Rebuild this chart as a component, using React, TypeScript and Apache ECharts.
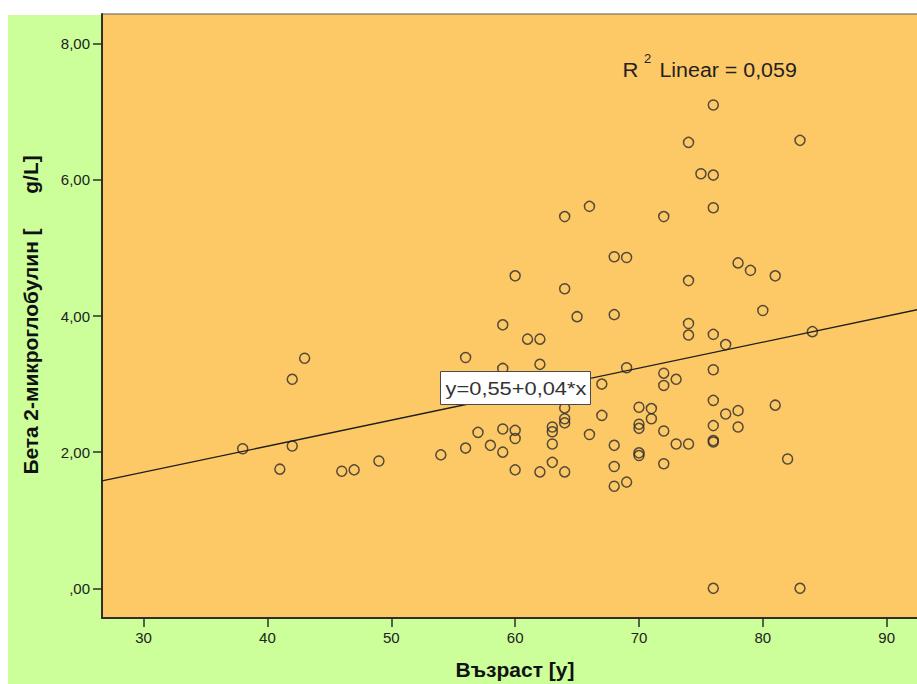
import React, { useEffect, useRef } from "react";
import * as echarts from "echarts";

// Age (years) of each patient
const ages = [
  38, 41, 42, 42, 43, 46, 47, 49, 54, 56, 56, 57, 58, 59, 59, 59, 59,
  60, 60, 60, 60, 61, 62, 62, 62, 63, 63, 63, 63, 64, 64, 64, 64, 64, 64,
  65, 66, 66, 67, 67, 68, 68, 68, 68, 68, 69, 69, 69, 70, 70, 70, 70, 70,
  71, 71, 72, 72, 72, 72, 72, 73, 73, 74, 74, 74, 74, 74, 75,
  76, 76, 76, 76, 76, 76, 76, 76, 76, 76, 77, 77, 78, 78, 78, 79, 80,
  81, 81, 82, 83, 83, 84,
];
// Beta-2-microglobulin (g/L)
const b2m = [
  2.05, 1.75, 3.07, 2.09, 3.38, 1.72, 1.74, 1.87, 1.96, 3.39, 2.06, 2.29, 2.1, 3.87, 3.23, 2.34, 2.0,
  4.59, 2.32, 2.2, 1.74, 3.66, 3.66, 3.29, 1.71, 2.37, 2.3, 2.12, 1.85, 5.46, 4.4, 2.65, 2.49, 2.43, 1.71,
  3.99, 5.61, 2.26, 3.0, 2.54, 4.87, 4.02, 2.1, 1.79, 1.5, 4.86, 3.24, 1.56, 2.66, 2.41, 2.35, 1.99, 1.95,
  2.64, 2.49, 5.46, 3.16, 2.98, 2.31, 1.83, 3.07, 2.12, 6.55, 4.52, 3.89, 3.72, 2.12, 6.09,
  7.1, 6.07, 5.59, 3.73, 3.21, 2.76, 2.39, 2.17, 2.15, 0.0, 3.58, 2.56, 4.78, 2.61, 2.37, 4.67, 4.08,
  4.59, 2.69, 1.9, 6.58, 0.0, 3.77,
];

const xTicks = [30, 40, 50, 60, 70, 80, 90];
const yTicks = [0, 2, 4, 6, 8];

// Fitted linear regression line (as drawn)
const fitIntercept = 0.56;
const fitSlope = 0.0382;
const fitAges = [26.64, 95];

const equationLabel = "y=0,55+0,04*x";
const r2Label = " Linear = 0,059";
const xTitle = "Възраст [y]";
const yTitle = "Бета 2-микроглобулин [\u00A0\u00A0\u00A0\u00A0\u00A0\u00A0g/L]";

const FONT = '"Liberation Sans", Arial, sans-serif';

export default function App() {
  const ref = useRef<HTMLDivElement>(null);

  useEffect(() => {
    const chart = echarts.init(ref.current!, null, { renderer: "svg" });
    const points = ages.map((a, i) => [a, b2m[i]]);
    const fit = fitAges.map((a) => [a, fitIntercept + fitSlope * a]);

    chart.setOption({
      animation: false,
      backgroundColor: "#ffffff",
      grid: {
        left: 102,
        top: 14,
        width: 846.6,
        height: 604,
        outerBoundsMode: "none",
        containLabel: false,
        show: true,
        backgroundColor: "#FDC966",
        borderColor: "#5a5a5a",
        borderWidth: 1,
      },
      xAxis: {
        type: "value",
        min: 26.64,
        max: 95,
        axisLine: { show: true, onZero: false, lineStyle: { color: "#2e2e2e", width: 2 } },
        axisTick: { show: true, length: 9, customValues: xTicks, lineStyle: { color: "#2e2e2e", width: 1.5 } },
        axisLabel: {
          customValues: xTicks,
          margin: 12,
          fontSize: 15,
          color: "#222",
          fontFamily: FONT,
        },
        splitLine: { show: false },
      },
      yAxis: {
        type: "value",
        min: -0.436,
        max: 8.436,
        axisLine: { show: true, onZero: false, lineStyle: { color: "#2e2e2e", width: 2 } },
        axisTick: { show: true, length: 9, customValues: yTicks, lineStyle: { color: "#2e2e2e", width: 1.5 } },
        axisLabel: {
          customValues: yTicks,
          margin: 12,
          fontSize: 15,
          color: "#222",
          fontFamily: FONT,
          formatter: (v: number) => v.toFixed(2).replace(".", ",").replace(/^0/, ""),
        },
        splitLine: { show: false },
      },
      series: [
        {
          type: "line",
          data: fit,
          showSymbol: false,
          symbol: "none",
          lineStyle: { color: "#1e1e1e", width: 1.3 },
          silent: true,
        },
        {
          type: "scatter",
          data: points,
          symbol: "circle",
          symbolSize: 10,
          itemStyle: { color: "rgba(0,0,0,0)", borderColor: "#2b2b2b", borderWidth: 1.5 },
        },
      ],
      graphic: [
        {
          type: "rect",
          z: -10,
          silent: true,
          shape: { x: 8, y: 15, width: 909, height: 669 },
          style: { fill: "#CCFF99" },
        },
        {
          type: "text",
          z: 100,
          x: 622.5,
          y: 70,
          scaleX: 1.1,
          style: { text: "R", font: `20px ${FONT}`, fill: "#222", textAlign: "left", textVerticalAlign: "middle" },
        },
        {
          type: "text",
          z: 100,
          x: 647.5,
          y: 58.5,
          style: { text: "2", font: `13px ${FONT}`, fill: "#222", textAlign: "center", textVerticalAlign: "middle" },
        },
        {
          type: "text",
          z: 100,
          x: 653.5,
          y: 70,
          scaleX: 1.07,
          style: { text: r2Label, font: `20px ${FONT}`, fill: "#222", textAlign: "left", textVerticalAlign: "middle" },
        },
        {
          type: "rect",
          z: 100,
          shape: { x: 440.5, y: 371.5, width: 150, height: 33 },
          style: { fill: "#ffffff", stroke: "#4a4a4a", lineWidth: 1 },
        },
        {
          type: "text",
          z: 101,
          x: 516,
          y: 388,
          scaleX: 1.15,
          style: { text: equationLabel, font: `19px ${FONT}`, fill: "#333", textAlign: "center", textVerticalAlign: "middle" },
        },
        {
          type: "text",
          z: 100,
          x: 515,
          y: 670,
          scaleX: 1.05,
          style: { text: xTitle, font: `bold 20px ${FONT}`, fill: "#111", textAlign: "center", textVerticalAlign: "middle" },
        },
        {
          type: "text",
          z: 100,
          x: 30.5,
          y: 315,
          rotation: Math.PI / 2,
          scaleX: 1.045,
          style: { text: yTitle, font: `bold 20px ${FONT}`, fill: "#111", textAlign: "center", textVerticalAlign: "middle" },
        },
      ],
    });

    return () => chart.dispose();
  }, []);

  return (
    <div
      ref={ref}
      style={{ position: "absolute", left: 0, top: 0, width: 917, height: 684, overflow: "hidden" }}
    />
  );
}
